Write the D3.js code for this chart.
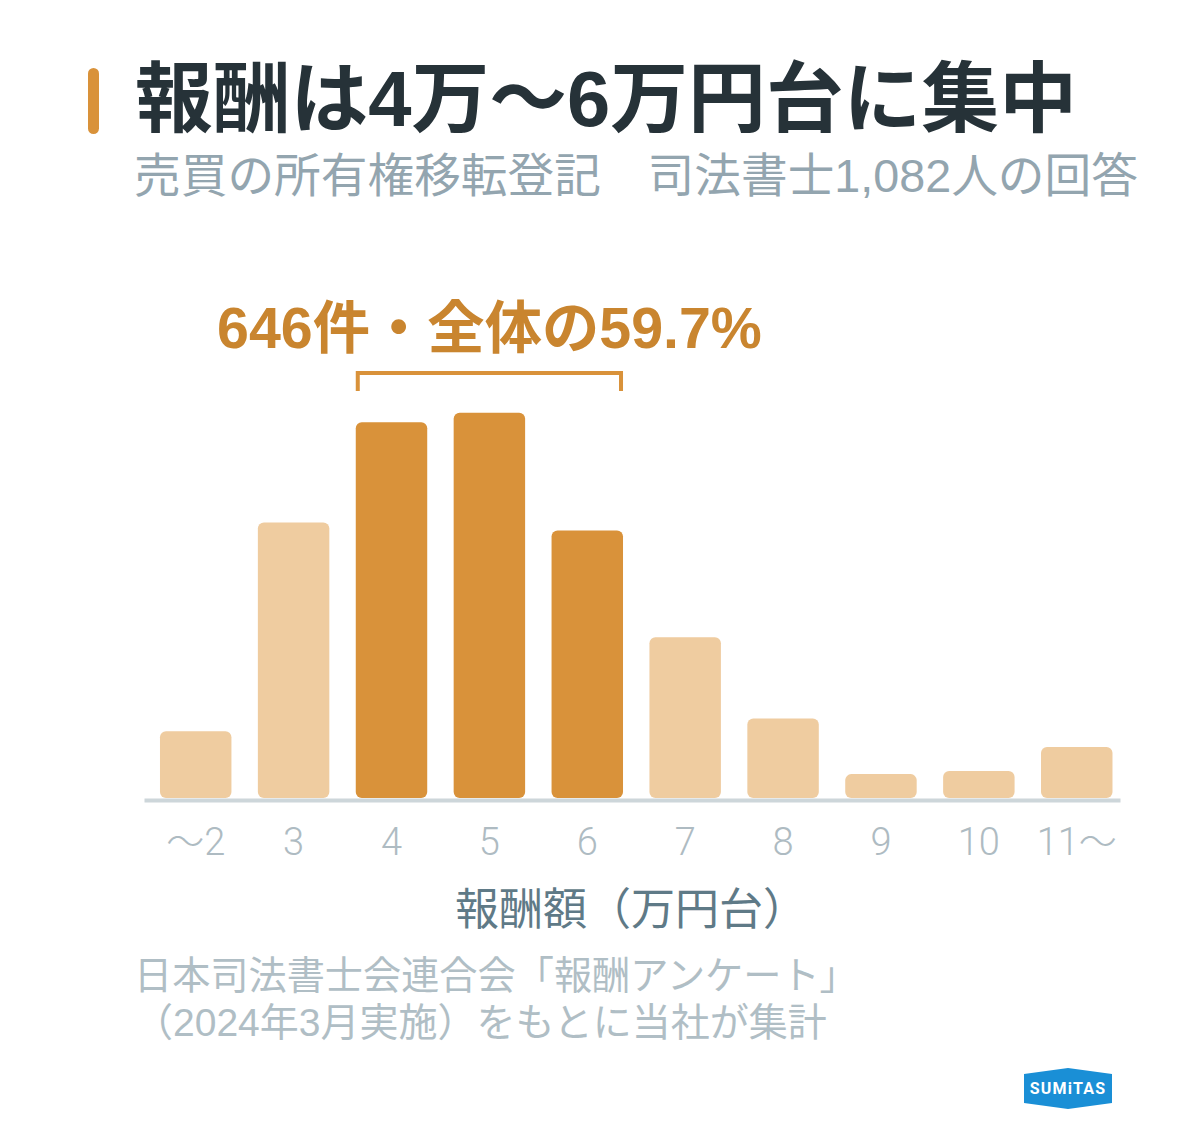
<!DOCTYPE html>
<html><head><meta charset="utf-8">
<script src="https://cdn.jsdelivr.net/npm/d3@7"></script>
<style>
html,body{margin:0;padding:0;background:#fff;}
svg{display:block;}
text{font-family:"Liberation Sans","Noto Sans CJK JP",sans-serif;}
</style></head>
<body>
<script>
const categories = ["〜2","3","4","5","6","7","8","9","10","11〜"];
const counts = [42,173,236,242,168,101,50,15,17,32];
const highlighted = ["4","5","6"];
const titleText = "報酬は4万〜6万円台に集中";
const subtitleText = "売買の所有権移転登記　司法書士1,082人の回答";
const annotationText = "646件・全体の59.7%";
const axisTitle = "報酬額（万円台）";
const sourceLines = ["日本司法書士会連合会「報酬アンケート」","（2024年3月実施）をもとに当社が集計"];

const W = 1200, H = 1148;
const svg = d3.select("body").append("svg").attr("width", W).attr("height", H);

function fit(sel, target){
  const fs = +sel.attr("font-size");
  const w = sel.node().getComputedTextLength();
  if (w > 0) sel.attr("font-size", fs * target / w);
  return sel;
}

// accent bar + title
svg.append("rect").attr("x",88).attr("y",68).attr("width",11).attr("height",66).attr("rx",5.5).attr("fill","#d9923a");
fit(svg.append("text").attr("x",135).attr("y",126).attr("font-size",74).attr("font-weight",700)
  .attr("fill","#263238").text(titleText), 942);
fit(svg.append("text").attr("x",134).attr("y",192).attr("font-size",45).attr("font-weight",400)
  .attr("fill","#93a5af").text(subtitleText), 1004);

const x = d3.scaleBand().domain(categories).range([144,1120]).paddingInner(0.27).paddingOuter(0.12).align(0.68);
const y = d3.scaleLinear().domain([0, d3.max(counts)]).range([798, 412.7]);

const data = categories.map((c,i)=>({c, v:counts[i]}));
svg.append("g").selectAll("rect").data(data).join("rect")
  .attr("x", d=>x(d.c)).attr("width", x.bandwidth())
  .attr("y", d=>y(d.v)).attr("height", d=>y(0)-y(d.v))
  .attr("rx",6)
  .attr("fill", d=>highlighted.includes(d.c) ? "#d9923a" : "#efcca0");

const ax = svg.append("g").attr("transform","translate(0,800)")
  .call(d3.axisBottom(x).tickSize(0).tickSizeOuter(0));
ax.select(".domain").attr("stroke","#cdd6da").attr("stroke-width",4);
ax.selectAll("text").attr("y",55).attr("dy",null).attr("font-size",38).attr("font-weight",300)
  .attr("fill","#aebbc2").style("font-family",'Roboto,"Noto Sans CJK JP",sans-serif');

// bracket
const bx0 = x(highlighted[0]), bx1 = x(highlighted[highlighted.length-1]) + x.bandwidth();
svg.append("path").attr("d", `M${bx0+2},391V373H${bx1-2}V391`).attr("fill","none")
  .attr("stroke","#d9923a").attr("stroke-width",4);
fit(svg.append("text").attr("x",217).attr("y",348).attr("font-size",52).attr("font-weight",700)
  .attr("fill","#c9852f").text(annotationText), 545);

svg.append("text").attr("x",631).attr("y",925).attr("text-anchor","middle").attr("font-size",44)
  .attr("fill","#5f7a87").style("font-family",'"Noto Sans CJK JP",sans-serif').text(axisTitle);

const src = svg.append("g").selectAll("text").data(sourceLines).join("text")
  .attr("x",134).attr("y",(d,i)=>989+i*47).attr("font-size",37).attr("fill","#b0bec5").text(d=>d);
fit(d3.select(src.nodes()[0]), 724);
fit(d3.select(src.nodes()[1]), 693);

// logo
const lg = svg.append("g").attr("transform","translate(1068,1088)");
lg.append("path").attr("d","M-44,-14L0,-20L44,-14V15L0,21L-44,15Z").attr("fill","#1a8fd6");
lg.append("text").attr("text-anchor","middle").attr("y",6).attr("font-size",16).attr("font-weight",700)
  .attr("letter-spacing",1.2).attr("fill","#fff").style("font-family","Roboto,sans-serif").text("SUMiTAS");
</script>
</body></html>
